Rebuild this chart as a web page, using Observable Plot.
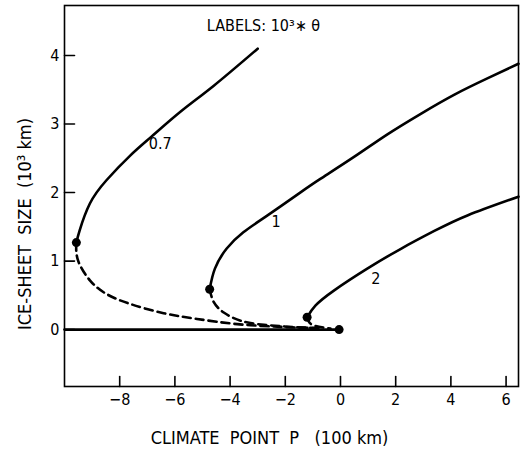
<!DOCTYPE html>
<html>
<head>
<meta charset="utf-8">
<script src="https://cdn.jsdelivr.net/npm/d3@7"></script>
<script src="https://cdn.jsdelivr.net/npm/@observablehq/plot@0.6"></script>
<style>
  html, body { margin: 0; padding: 0; background: #fff; }
</style>
</head>
<body>
<div id="chart"></div>
<script>
// Stable (solid) branches: climate point P (100 km) and ice-sheet size (10^3 km)
const stableP07 = [-9.57, -9.45, -9.08, -8.48, -7.62, -6.84, -5.80, -4.59, -3.00];
const stableS07 = [1.27, 1.45, 1.84, 2.18, 2.54, 2.82, 3.18, 3.56, 4.10];
const stableP1 = [-4.74, -4.55, -4.13, -3.52, -2.67, -1.46, -0.73, 0.49, 1.70, 2.91, 4.13, 5.34, 6.45];
const stableS1 = [0.59, 0.89, 1.18, 1.42, 1.66, 2.00, 2.20, 2.52, 2.85, 3.15, 3.43, 3.67, 3.88];
const stableP2 = [-1.21, -0.91, -0.24, 0.97, 2.19, 3.40, 4.62, 6.45];
const stableS2 = [0.18, 0.35, 0.57, 0.89, 1.18, 1.44, 1.67, 1.94];
// Unstable (dashed) branches
const unstableP07 = [-9.57, -9.51, -9.08, -8.48, -7.62, -6.41, -5.20, -3.74, -2.16, -0.83];
const unstableS07 = [1.27, 1.01, 0.72, 0.52, 0.375, 0.24, 0.156, 0.08, 0.04, 0.02];
const unstableP1 = [-4.74, -4.59, -4.23, -3.62, -2.77, -1.56, -0.70];
const unstableS1 = [0.59, 0.40, 0.25, 0.13, 0.07, 0.035, 0.02];
const unstableP2 = [-1.21, -1.02, -0.36];
const unstableS2 = [0.18, 0.07, 0.015];
// Ice-free branch
const zeroP = [-10, 0];
const zeroS = [0, 0];
// Bifurcation points
const dotP = [-9.57, -4.74, -1.21, -0.05];
const dotS = [1.27, 0.59, 0.18, 0];
// Curve labels
const curveLabels = ["0.7", "1", "2"];
const curveLabelP = [-6.53, -2.33, 1.28];
const curveLabelS = [2.71, 1.57, 0.74];
// Ticks and titles
const xTicks = [-8, -6, -4, -2, 0, 2, 4, 6];
const yTicks = [0, 1, 2, 3, 4];
const xTitle = "CLIMATE  POINT  P   (100 km)";
const yTitle = "ICE-SHEET  SIZE  (10³ km)";
const legendTitle = "LABELS: 10³∗ θ";

const zip = (xs, ys, g) => xs.map((x, i) => ({x, y: ys[i], g}));
const solid = [
  ...zip(stableP07, stableS07, "0.7"),
  ...zip(stableP1, stableS1, "1"),
  ...zip(stableP2, stableS2, "2"),
  ...zip(zeroP, zeroS, "zero")
];
const dashed = [
  ...zip(unstableP07, unstableS07, "0.7"),
  ...zip(unstableP1, unstableS1, "1"),
  ...zip(unstableP2, unstableS2, "2")
];
const dots = zip(dotP, dotS);
const labels = curveLabels.map((t, i) => ({t, x: curveLabelP[i], y: curveLabelS[i]}));

const font = "'DejaVu Sans Condensed', 'DejaVu Sans', sans-serif";
const W = 522, H = 452, mL = 64, mR = 4, mT = 5, mB = 66;
const xDomain = [-10, 6.45], yDomain = [-0.83, 4.73];
const frameW = W - mL - mR, frameH = H - mT - mB, tickLen = 10;
// tick length expressed in data units (derived from the scale extents)
const tickDX = tickLen * (xDomain[1] - xDomain[0]) / frameW;
const tickDY = tickLen * (yDomain[1] - yDomain[0]) / frameH;
// inward tick segments, as two-point polylines grouped by tick
const tickSegs = [
  ...xTicks.flatMap(v => [{x: v, y: yDomain[0], k: "x" + v}, {x: v, y: yDomain[0] + tickDY, k: "x" + v}]),
  ...yTicks.flatMap(v => [{x: xDomain[0], y: v, k: "y" + v}, {x: xDomain[0] + tickDX, y: v, k: "y" + v}])
];

const chart = Plot.plot({
  width: W,
  height: H,
  marginLeft: mL,
  marginRight: mR,
  marginTop: mT,
  marginBottom: mB,
  style: {fontFamily: font, fontSize: "16px", background: "white", color: "black", overflow: "visible"},
  x: {domain: xDomain},
  y: {domain: yDomain},
  marks: [
    Plot.frame({stroke: "black", strokeWidth: 1.6}),
    Plot.line(tickSegs, {x: "x", y: "y", z: "k", stroke: "black", strokeWidth: 1.6, curve: "linear"}),
    Plot.axisX({ticks: xTicks, tickSize: 0, tickPadding: 7, label: null, fontSize: 16}),
    Plot.axisY({ticks: yTicks, tickSize: 0, tickPadding: 5, tickFormat: d3.format("d"), label: null, fontSize: 16}),
    Plot.line(solid, {x: "x", y: "y", z: "g", stroke: "black", strokeWidth: 2.6, curve: "natural"}),
    Plot.line(dashed, {x: "x", y: "y", z: "g", stroke: "black", strokeWidth: 2.6, strokeDasharray: "8,5", curve: "natural"}),
    Plot.dot(dots, {x: "x", y: "y", r: 4.5, fill: "black"}),
    Plot.text(labels, {x: "x", y: "y", text: "t", fontSize: 16, fill: "black"}),
    Plot.text([legendTitle], {frameAnchor: "top", textAnchor: "middle", lineAnchor: "middle", dx: -28, dy: 20, fontSize: 16, fill: "black"}),
    Plot.text([xTitle], {frameAnchor: "bottom", textAnchor: "middle", lineAnchor: "middle", dx: -22, dy: 52, fontSize: 18, fill: "black"}),
    Plot.text([yTitle], {frameAnchor: "left", textAnchor: "middle", lineAnchor: "middle", rotate: -90, dx: -39, dy: 28, fontSize: 18, fill: "black"})
  ]
});
document.getElementById("chart").appendChild(chart);
</script>
</body>
</html>
